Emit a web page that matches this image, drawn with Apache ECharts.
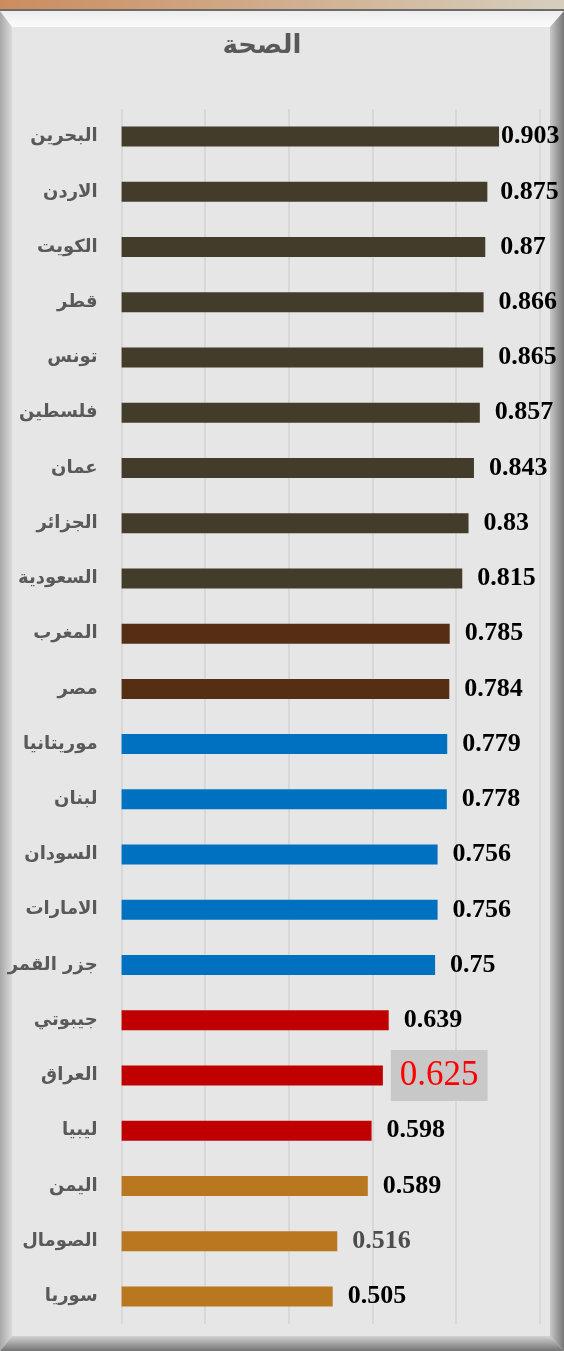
<!DOCTYPE html>
<html>
<head>
<meta charset="utf-8">
<script src="https://cdn.jsdelivr.net/npm/echarts@6/dist/echarts.min.js"></script>
<style>
html,body{margin:0;padding:0;background:#e6e6e6;}
#c{width:564px;height:1351px;}
</style>
</head>
<body>
<div id="c"></div>
<script>
const titleText = 'الصحة';
const categories = ['البحرين','الاردن','الكويت','قطر','تونس','فلسطين','عمان','الجزائر','السعودية','المغرب','مصر','موريتانيا','لبنان','السودان','الامارات','جزر القمر','جيبوتي','العراق','ليبيا','اليمن','الصومال','سوريا'];
const values = [0.903,0.875,0.87,0.866,0.865,0.857,0.843,0.83,0.815,0.785,0.784,0.779,0.778,0.756,0.756,0.75,0.639,0.625,0.598,0.589,0.516,0.505];
const groupOf = [0,0,0,0,0,0,0,0,0,1,1,2,2,2,2,2,3,3,3,4,4,4];
const groupColors = ['#433c2b','#552e14','#0070c0','#c00000','#b97820'];
const highlightName = 'العراق';
const xTicks = {min:0,max:1,interval:0.2};

const W = 564, H = 1351;
const chart = echarts.init(document.getElementById('c'), null, {renderer:'canvas', width:W, height:H});

const data = values.map((v,i)=>{
  const item = {value:v, itemStyle:{color:groupColors[groupOf[i]]}};
  if (categories[i] === highlightName) {
    item.label = {color:'#ff0000', fontSize:35, fontWeight:'normal', backgroundColor:'#c8c8c8', padding:[8,9,8,9], distance:8};
  } else if (i === 0) {
    item.label = {distance:2};
  } else if (i === 1) {
    item.label = {distance:13};
  } else if (categories[i] === 'الصومال') {
    item.label = {color:'#4d4d4d'};
  }
  return item;
});

function lg(x1,y1,x2,y2,c1,c2){return new echarts.graphic.LinearGradient(x1,y1,x2,y2,[{offset:0,color:c1},{offset:1,color:c2}]);}

chart.setOption({
  animation:false,
  backgroundColor:'#e6e6e6',
  title:{text:titleText, left:257, top:28, textAlign:'center',
    textStyle:{fontFamily:'DejaVu Sans', fontSize:26, fontWeight:'bold', color:'#595959'}},
  graphic:[
    {type:'rect', shape:{x:0,y:0,width:564,height:10}, style:{fill:lg(0,0,1,0,'#cc8c5e','#d6cfbd')}, z:-10},
    {type:'rect', shape:{x:0,y:9,width:564,height:2}, style:{fill:'#6b6b6b'}, z:-10},
    {type:'polygon', shape:{points:[[0,11],[564,11],[550,27],[12,27]]}, style:{fill:lg(0,0,0,1,'#ececec','#fcfcfc')}, z:-10},
    {type:'polygon', shape:{points:[[0,11],[12,27],[12,1336],[0,1351]]}, style:{fill:lg(0,0,1,0,'#a8a8a8','#dadada')}, z:-10},
    {type:'polygon', shape:{points:[[564,11],[550,27],[550,1336],[564,1351]]}, style:{fill:lg(0,0,1,0,'#c8c8c8','#767676')}, z:-10},
    {type:'polygon', shape:{points:[[0,1351],[12,1336],[550,1336],[564,1351]]}, style:{fill:lg(0,0,0,1,'#d2d2d2','#747474')}, z:-10}
  ],
  grid:{left:121.6, right:24.4, top:109, bottom:27, containLabel:false},
  xAxis:{type:'value', min:xTicks.min, max:xTicks.max, interval:xTicks.interval,
    axisLabel:{show:false}, axisLine:{show:false}, axisTick:{show:false},
    splitLine:{show:true, lineStyle:{color:'#d3d3d3', width:1.5}}},
  yAxis:{type:'category', data:categories, inverse:true,
    axisLine:{show:false}, axisTick:{show:false},
    axisLabel:{margin:24, fontFamily:'DejaVu Sans', fontSize:18, fontWeight:'bold', color:'#595959'}},
  series:[{
    type:'bar', data:data, barWidth:20,
    label:{show:true, position:'right', distance:15,
      fontFamily:'Liberation Serif', fontSize:26, fontWeight:'bold', color:'#000000',
      formatter:p=>String(p.value)}
  }]
});
</script>
</body>
</html>
